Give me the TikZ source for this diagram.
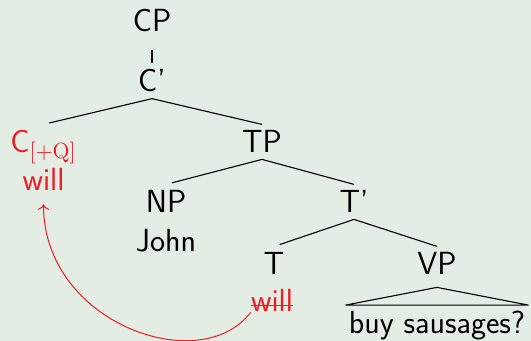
\documentclass[tikz,border=0pt]{standalone}
\definecolor{movered}{RGB}{238, 28, 36}
\definecolor{slidebg}{RGB}{228, 237, 227}
\usepackage{tikz}
\usetikzlibrary{arrows.meta}

\newcommand{\treefont}{\sffamily\fontsize{16}{19}\selectfont}

\begin{document}
\begin{tikzpicture}[x=0.5pt, y=-0.5pt,
    cat/.style={anchor=base, font=\treefont, inner xsep=1.5pt, inner ysep=3pt},
    moved/.style={anchor=base, font=\treefont, text=movered, inner sep=0pt},
    branch/.style={line width=0.55pt, shorten <=3pt}]
  % Background
  \fill[slidebg] (0, 0) rectangle (531, 341);
  \useasboundingbox (0, 0) rectangle (531, 341);

  % CP and C'
  \node[cat] (cp) at (152, 32) {CP};
  \node[cat] (cbar) at (152, 92) {C'};
  \draw[branch, shorten <=5.5pt] (cp.south) -- (cbar.north);

  % C head with the moved auxiliary
  \node[cat, text=movered] (cq) at (43.5, 153) {C$_{[+\mathrm{Q}]}$};
  \node[moved] (willc) at (43.5, 191) {will};

  % TP
  \node[cat] (tp) at (262, 153) {TP};
  \draw[branch] (cq.north) -- (cbar.south) -- (tp.north);

  % Subject
  \node[cat] (np) at (166, 213) {NP};
  \node[cat] (john) at (166, 252) {John};

  % T'
  \node[cat] (tbar) at (354, 213) {T'};
  \draw[branch] (np.north) -- (tp.south) -- (tbar.north);

  % T head (struck out copy) and VP
  \node[cat] (t) at (274, 275) {T};
  \node[moved] (willt) at (272, 312) {will};
  \draw[movered, line width=0.6pt] ([yshift=3.2pt]willt.base west) -- ([yshift=3.2pt]willt.base east);
  \node[cat] (vp) at (437, 275) {VP};
  \draw[branch] (t.north) -- (tbar.south) -- (vp.north);

  % VP roof
  \node[cat] (vpx) at (437, 334) {buy sausages?};
  \coordinate (roof) at ([yshift=-3pt]vp.south);
  \draw[line width=0.55pt] (vpx.north west) -- (roof) -- (vpx.north east) -- cycle;

  % Head movement
  \draw[movered, ->, line width=0.5pt, shorten >=6.5pt] (willt.south west) .. controls +(-50, 66) and +(0, 132) .. (willc.south);
\end{tikzpicture}
\end{document}
